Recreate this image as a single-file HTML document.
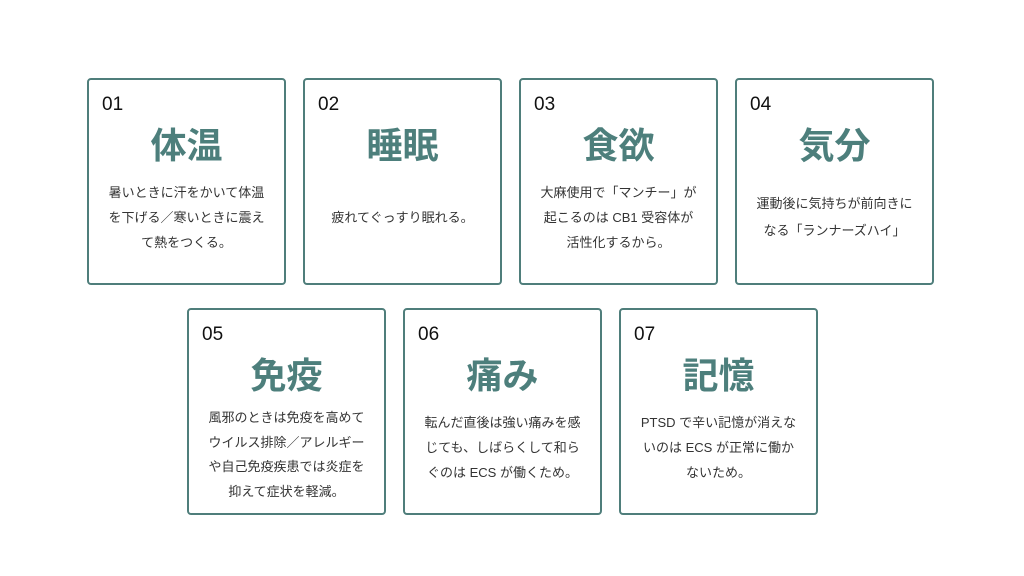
<!DOCTYPE html>
<html><head><meta charset="utf-8"><style>
body{margin:0;width:1024px;height:576px;background:#fff;position:relative;overflow:hidden;font-family:"Liberation Sans","Noto Sans CJK JP",sans-serif}
.c{position:absolute;width:195px;height:203px;border:2.5px solid #4f7e7b;border-radius:4px;box-sizing:content-box}
.n{position:absolute;left:13px;top:14px;font-size:19px;color:#111;font-weight:500}
.t{position:absolute;left:0;right:0;top:41px;text-align:center;font-size:36px;font-weight:bold;color:#4d7f7c;line-height:50px}
.b{position:absolute;left:4px;right:4px;top:97px;height:80px;display:flex;align-items:center;justify-content:center;text-align:center;font-size:13px;line-height:25px;color:#333;white-space:nowrap}
</style></head><body>
<div class="c" style="left:87px;top:78px"><div class="n">01</div><div class="t">体温</div><div class="b">暑いときに汗をかいて体温<br>を下げる／寒いときに震え<br>て熱をつくる。</div></div>
<div class="c" style="left:303px;top:78px"><div class="n">02</div><div class="t">睡眠</div><div class="b">疲れてぐっすり眠れる。</div></div>
<div class="c" style="left:519px;top:78px"><div class="n">03</div><div class="t">食欲</div><div class="b">大麻使用で「マンチー」が<br>起こるのは CB1 受容体が<br>活性化するから。</div></div>
<div class="c" style="left:735px;top:78px"><div class="n">04</div><div class="t">気分</div><div class="b" style="line-height:27px">運動後に気持ちが前向きに<br>なる「ランナーズハイ」</div></div>
<div class="c" style="left:187px;top:308px"><div class="n">05</div><div class="t">免疫</div><div class="b" style="top:105px;line-height:24.5px">風邪のときは免疫を高めて<br>ウイルス排除／アレルギー<br>や自己免疫疾患では炎症を<br>抑えて症状を軽減。</div></div>
<div class="c" style="left:403px;top:308px"><div class="n">06</div><div class="t">痛み</div><div class="b">転んだ直後は強い痛みを感<br>じても、しばらくして和ら<br>ぐのは ECS が働くため。</div></div>
<div class="c" style="left:619px;top:308px"><div class="n">07</div><div class="t">記憶</div><div class="b">PTSD で辛い記憶が消えな<br>いのは ECS が正常に働か<br>ないため。</div></div>
</body></html>
